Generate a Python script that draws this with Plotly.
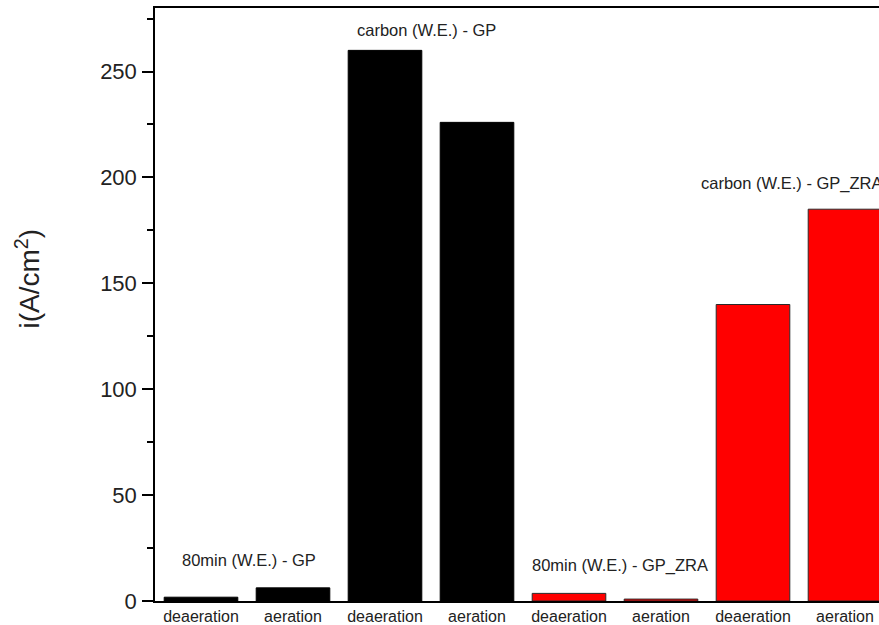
import plotly.graph_objects as go

# ---- data ----
tick_labels = ["deaeration", "aeration", "deaeration", "aeration",
               "deaeration", "aeration", "deaeration", "aeration"]
gp_positions = [1, 2, 3, 4]
gp_values = [1.8, 6.2, 260, 226]
zra_positions = [5, 6, 7, 8]
zra_values = [3.6, 0.9, 140, 185]
group_labels = ["80min (W.E.) - GP", "carbon (W.E.) - GP",
                "80min (W.E.) - GP_ZRA", "carbon (W.E.) - GP_ZRA"]
y_ticks = [0, 50, 100, 150, 200, 250]

FONT = "Arial, 'Liberation Sans', sans-serif"

fig = go.Figure()
fig.add_trace(go.Bar(x=gp_positions, y=gp_values, width=0.8,
                     marker=dict(color="#000000", line=dict(color="#000000", width=1)),
                     name="GP", showlegend=False))
fig.add_trace(go.Bar(x=zra_positions, y=zra_values, width=0.8,
                     marker=dict(color="#FF0000", line=dict(color="#2a2a2a", width=1)),
                     name="GP_ZRA", showlegend=False))

# group annotations
ann_pos = [(1.52, 19.3, "center"), (3.45, 269.7, "center"),
           (5.55, 16.8, "center"), (6.41, 196.9, "left")]
for (ax, ay, anc), txt in zip(ann_pos, group_labels):
    fig.add_annotation(x=ax, y=ay, xref="x", yref="y", text=txt, showarrow=False,
                       xanchor=anc, yanchor="middle",
                       font=dict(family=FONT, size=16.5, color="#222222"))

# y axis title
fig.add_annotation(x=-0.176, y=0.543, xref="paper", yref="paper",
                   text="i(A/cm<sup>2</sup>)", textangle=-90, showarrow=False,
                   xanchor="center", yanchor="middle",
                   font=dict(family=FONT, size=28, color="#222222"))

fig.update_layout(
    width=879, height=625,
    margin=dict(l=155, r=0, t=8, b=24),
    paper_bgcolor="white", plot_bgcolor="white",
    bargap=0.2,
    font=dict(family=FONT, color="#222222"),
)
fig.update_xaxes(
    range=[0.5, 0.5 + 724 / 92], tickmode="array",
    tickvals=list(range(1, 9)), ticktext=tick_labels,
    showline=True, linecolor="black", linewidth=1.5, mirror=True,
    ticks="", showgrid=False, zeroline=False,
    tickfont=dict(family=FONT, size=16, color="#222222"),
)
fig.update_yaxes(
    range=[0, 280], tickmode="array", tickvals=y_ticks,
    showline=True, linecolor="black", linewidth=1.5, mirror=False,
    ticks="outside", ticklen=11, tickwidth=1.5, tickcolor="black",
    minor=dict(tickmode="array", tickvals=[25, 75, 125, 175, 225, 275],
               ticks="outside", ticklen=6, tickwidth=1.5, tickcolor="black", showgrid=False),
    showgrid=False, zeroline=False, ticklabelstandoff=1,
    tickfont=dict(family=FONT, size=22, color="#222222"),
)

fig.write_html(
    "out.html",
    config={"displayModeBar": False},
    post_script="document.body.style.margin='0';document.body.style.overflow='hidden';",
)
